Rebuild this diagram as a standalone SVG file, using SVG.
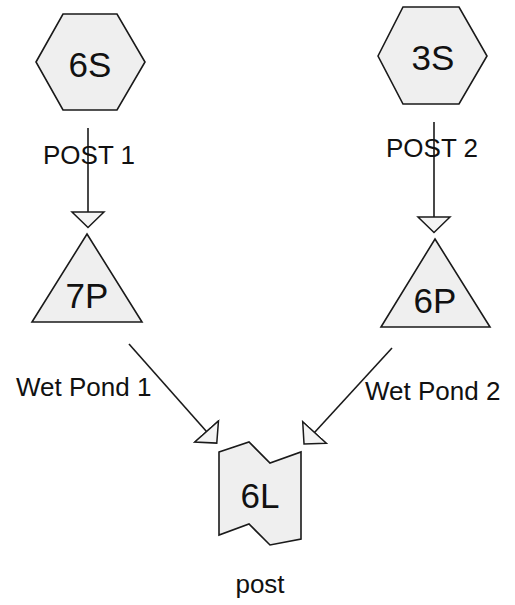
<svg xmlns="http://www.w3.org/2000/svg" width="515" height="605" viewBox="0 0 515 605">
<style>
.node{fill:#efefef;stroke:#1a1a1a;stroke-width:1.6;stroke-linejoin:miter}
.nl{font-family:"Liberation Sans",Arial,sans-serif;font-size:35px;fill:#111;text-anchor:middle}
.el{font-family:"Liberation Sans",Arial,sans-serif;font-size:26px;fill:#111}
.conn{stroke:#1a1a1a;stroke-width:1.6;fill:none}
</style>
<defs>
<marker id="ah" viewBox="-1 -18 18 36" refX="0" refY="0" markerWidth="18" markerHeight="36" markerUnits="userSpaceOnUse" orient="auto">
<path d="M0,-16 L15.5,0 L0,16 Z" fill="#f4f4f4" stroke="#1a1a1a" stroke-width="1.5"/>
</marker>
</defs>
<rect width="515" height="605" fill="#ffffff"/>
<g id="connectors">
<line class="conn" x1="88" y1="128" x2="88" y2="212" marker-end="url(#ah)"/>
<line class="conn" x1="434" y1="122" x2="434" y2="217" marker-end="url(#ah)"/>
<line class="conn" x1="129" y1="344" x2="206.5" y2="431.5" marker-end="url(#ah)"/>
<line class="conn" x1="392" y1="348" x2="314.5" y2="432.5" marker-end="url(#ah)"/>
<text class="el" x="43" y="164">POST 1</text>
<text class="el" x="386" y="157">POST 2</text>
<text class="el" x="16" y="396">Wet Pond 1</text>
<text class="el" x="365" y="400">Wet Pond 2</text>
</g>
<g id="node-6S">
<polygon class="node" points="36,62 63,14 117,14 145,62 117,110 63,110"/>
<text class="nl" x="90" y="77">6S</text>
</g>
<g id="node-3S">
<polygon class="node" points="378,56 403,7 459,7 487,56 459,104 403,104"/>
<text class="nl" x="433" y="70">3S</text>
</g>
<g id="node-7P">
<polygon class="node" points="87,234 142,322 32,322"/>
<text class="nl" x="87" y="308">7P</text>
</g>
<g id="node-6P">
<polygon class="node" points="435,239 490,327 381,327"/>
<text class="nl" x="435" y="313">6P</text>
</g>
<g id="node-6L">
<polygon class="node" points="219,452 249,442 270,463 301,452 301,539 270,545 249,524 219,535"/>
<text class="nl" x="260" y="508">6L</text>
<text class="el" x="260" y="593" text-anchor="middle">post</text>
</g>
</svg>
